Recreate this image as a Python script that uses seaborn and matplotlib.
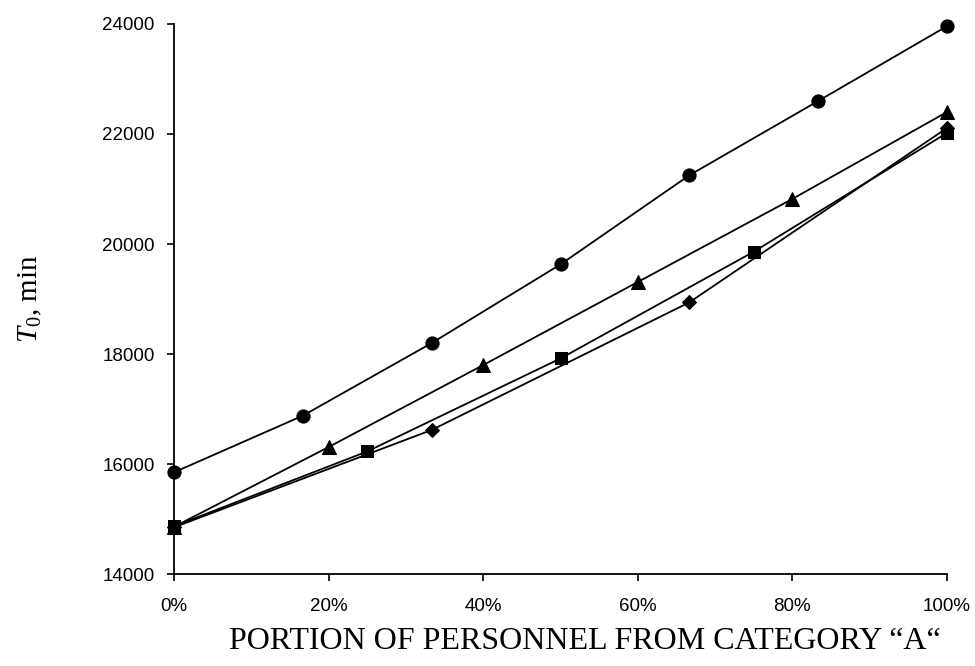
import pandas as pd
import matplotlib
matplotlib.use("Agg")
import matplotlib.pyplot as plt
import seaborn as sns
from matplotlib.ticker import PercentFormatter

# Data
share_circle = [0, 1/6, 2/6, 3/6, 4/6, 5/6, 1]
t_circle = [15850, 16880, 18200, 19630, 21250, 22600, 23960]

share_triangle = [0, 0.2, 0.4, 0.6, 0.8, 1.0]
t_triangle = [14860, 16310, 17800, 19310, 20820, 22400]

share_square = [0, 0.25, 0.5, 0.75, 1.0]
t_square = [14870, 16230, 17920, 19860, 22020]

share_diamond = [0, 1/3, 2/3, 1.0]
t_diamond = [14850, 16620, 18940, 22110]

y_ticks = [14000, 16000, 18000, 20000, 22000, 24000]
x_ticks = [0, 0.2, 0.4, 0.6, 0.8, 1.0]

sns.set_style("ticks")
plt.rcParams["mathtext.fontset"] = "custom"
plt.rcParams["mathtext.rm"] = "Liberation Serif"
plt.rcParams["mathtext.it"] = "Liberation Serif:italic"

fig = plt.figure(figsize=(9.75, 6.66), dpi=100)
ax = fig.add_axes([0.1785, 0.138, 0.7928, 0.826])

series = [
    (share_circle, t_circle, "o", 9.5),
    (share_triangle, t_triangle, "^", 10),
    (share_square, t_square, "s", 9),
    (share_diamond, t_diamond, "D", 7.5),
]
for xs, ys, mk, ms in series:
    df = pd.DataFrame({"share": xs, "T0": ys})
    sns.lineplot(data=df, x="share", y="T0", ax=ax, color="black",
                 linewidth=1.3, marker=mk, markersize=ms,
                 markeredgecolor="black", markerfacecolor="black")

ax.set_xlim(0, 1.0)
ax.set_ylim(14000, 24000)
ax.set_xticks(x_ticks)
ax.set_yticks(y_ticks)
ax.xaxis.set_major_formatter(PercentFormatter(xmax=1, decimals=0))
for lab in ax.get_xticklabels() + ax.get_yticklabels():
    lab.set_family("Liberation Sans")
    lab.set_fontsize(13.5)
ax.tick_params(axis="both", direction="out", length=5, width=1.2,
               color="black", labelcolor="black")
ax.tick_params(axis="x", pad=12)
ax.tick_params(axis="y", pad=9)

sns.despine(ax=ax)
for side in ["left", "bottom"]:
    ax.spines[side].set_linewidth(1.3)
    ax.spines[side].set_color("black")
for line in ax.lines:
    line.set_clip_on(False)

ax.set_xlabel("PORTION OF PERSONNEL FROM CATEGORY \u201cA\u201c",
              fontsize=23, family="Liberation Serif", color="black")
ax.xaxis.set_label_coords(0.532, -0.097)
ax.set_ylabel(r"$T_0$, min", fontsize=21, family="Liberation Serif",
              color="black")
ax.yaxis.set_label_coords(-0.168, 0.5)

fig.savefig("out.png", dpi=100)
